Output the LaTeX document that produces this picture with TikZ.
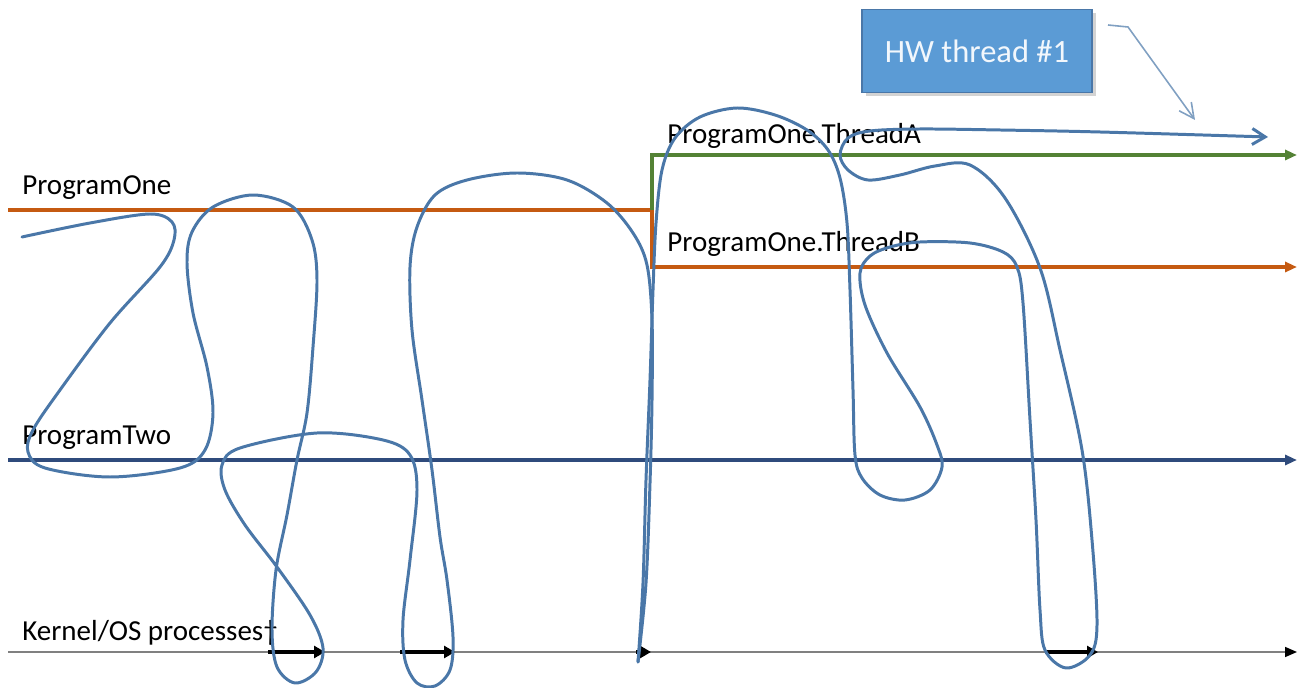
\documentclass[tikz,border=0pt]{standalone}
\usepackage{fontspec}
\setmainfont{Carlito}
\usetikzlibrary{arrows.meta,shadows}

\definecolor{oneorange}{HTML}{C55A11}
\definecolor{threadgreen}{HTML}{548235}
\definecolor{twonavy}{HTML}{2F4B7C}
\definecolor{hwblue}{HTML}{4A77A8}
\definecolor{boxblue}{HTML}{5B9BD5}

\begin{document}
\begin{tikzpicture}[
  x=0.02cm,y=-0.02cm,
  lane/.style={line width=1.8pt,-{Triangle[length=2.4mm,width=2mm]}},
  lbl/.style={anchor=base west,inner sep=0pt,font=\fontsize{16.5}{20}\selectfont},
  hwpath/.style={hwblue,line width=1.7pt,line join=round,line cap=round},
  kern/.style={black,line width=2.2pt,-{Triangle[length=2.2mm,width=2.4mm]}},
  hwbox/.style={fill=boxblue,draw=hwblue,line width=0.8pt,minimum width=230*0.02cm,
    minimum height=83*0.02cm,text=white!92!boxblue,
    font=\fontsize{18.5}{22}\selectfont,
    drop shadow={shadow xshift=2pt,shadow yshift=-2pt,opacity=0.35}}
]
  \useasboundingbox (0,0) rectangle (1304,688);

  % time lines
  \coordinate (one-start) at (8,210);
  \coordinate (fork) at (652,210);
  \coordinate (a-end) at (1297,155);
  \coordinate (b-end) at (1297,267);
  \coordinate (two-start) at (8,460);
  \coordinate (two-end) at (1297,460);
  \coordinate (os-start) at (8,652);
  \coordinate (os-end) at (1297,652);

  \draw[oneorange,line width=1.8pt] (one-start) -- (fork);
  \draw[lane,threadgreen] (fork) |- (a-end);
  \draw[lane,oneorange] (fork) |- (b-end);
  \draw[lane,twonavy] (two-start) -- (two-end);
  \draw[black!50,line width=0.9pt,-{Triangle[length=2.4mm,width=2mm,black]}] (os-start) -- (os-end);

  \node[lbl] (one) at (22,195) {ProgramOne};
  \node[lbl] (thread-a) at (667,144) {ProgramOne.ThreadA};
  \node[lbl] (thread-b) at (667,252) {ProgramOne.ThreadB};
  \node[lbl] (two) at (22,445) {ProgramTwo};
  \node[lbl] (os) at (22,640) {Kernel/OS processes†};

  % kernel slices
  \foreach \s/\e in {268/325,400/455,636/651,1045/1098}
    \draw[kern] (\s,652) -- (\e,652);

  % hardware thread path
  \draw[hwpath] plot[smooth,tension=0.55] coordinates {
    (22,237) (90,223) (150,214) (172,222) (174,240) (160,267) (110,323)
    (60,390) (33,430) (28,452) (45,468) (110,477) (180,468) (205,450)
    (213,413) (207,367) (193,313) (187,263) (192,232) (213,207) (253,195)
    (293,207) (312,240) (317,280) (313,347) (307,413) (297,460) (287,515)
    (276,570) (272,630) (277,667) (295,683) (316,672) (323,648) (310,615)
    (277,567) (245,525) (225,490) (222,465) (240,448) (317,433) (383,440)
    (410,455) (417,490) (410,560) (403,620) (405,660) (417,683) (435,686)
    (450,670) (453,637) (447,580) (440,537) (432,470) (422,400) (412,330)
    (410,267) (417,227) (435,195) (467,180) (517,173) (567,180) (607,203)
    (633,233) (647,265) (652,320) (652,400) (650,483) (646,583) (638,662)};
  \draw[hwpath,-{Straight Barb[length=2.6mm,width=3.2mm]}] plot[smooth,tension=0.55] coordinates {
    (638,662) (643,583) (646,480) (650,380) (653,290) (656,223) (662,170)
    (675,138) (700,117) (737,108) (775,115) (807,130) (828,150) (840,178)
    (847,223) (850,290) (853,390) (855,455) (862,478) (880,495) (905,500)
    (930,490) (942,467) (937,445) (920,407) (887,353) (865,305) (860,273)
    (870,256) (890,247) (920,242) (970,243) (1003,252) (1017,267) (1023,303)
    (1030,420) (1036,520) (1040,610) (1045,650) (1066,668) (1090,655)
    (1097,625) (1092,540) (1082,450) (1060,350) (1040,268) (1005,198)
    (970,165) (935,166) (900,175) (868,180) (848,170) (840,155) (848,138)
    (870,131) (920,129) (1000,130) (1100,132) (1268,137)};

  % callout
  \node[hwbox] (hw) at (977,51) {HW thread \#1};
  \coordinate (hw-tail) at (1108,25);
  \coordinate (hw-bend) at (1128,27);
  \coordinate (hw-tip) at (1195,120);
  \draw[hwblue!70,line width=0.9pt,-{Straight Barb[length=3mm,width=3mm]}]
    (hw-tail) -- (hw-bend) -- (hw-tip);
\end{tikzpicture}
\end{document}
